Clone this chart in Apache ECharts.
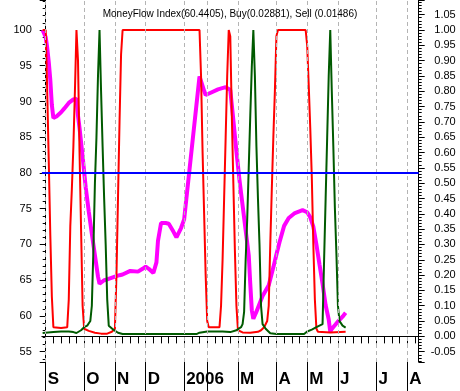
<!DOCTYPE html>
<html>
<head>
<meta charset="utf-8">
<script src="https://cdn.jsdelivr.net/npm/echarts@6/dist/echarts.min.js"></script>
<style>
html,body{margin:0;padding:0;background:#fff;}
#chart{width:460px;height:391px;}
</style>
</head>
<body>
<div id="chart"></div>
<script>
// ---- data ----
const titleText = 'MoneyFlow Index(60.4405), Buy(0.02881), Sell (0.01486)';
const weekCount = 49;                       // weekly slots on the x axis
const monthWeekIndex = [0, 5, 9, 13, 18, 21, 25, 30, 34, 38, 43, 47];
const monthLabels = ['S', 'O', 'N', 'D', '2006', '', 'M', 'A', 'M', 'J', 'J', 'A'];

// trading-day index (0 = first day of September), 5 days per week slot
const mfiDays = [-2,0,1,2,3,4,5,7,10,12,15,18,20,21,22,24,26,28,30,32,34,35,38,40,45,48,50,55,60,63,65,67,70,72,73,75,78,80,83,85,88,90,92,94,96,98,100,101,103,104,108,112,117,120,121,122,124,126,128,130,132,133,134,135,137,141,145,148,150,152,155,158,162,167,170,172,174,176,178,180,182,184,185,186,188,190,193,195];
const mfiValues = [100,99,97.5,95.5,93,89.5,87.7,87.9,88.5,89,89.8,90.3,90.4,88,86.3,82.3,78,74.6,71.5,68.5,65.5,64.5,65,65.1,65.5,65.7,65.8,66.3,66.2,66.6,66.9,66.6,66.0,67.5,70.5,73.0,73.0,72.9,71.8,71.0,72.3,73.5,77.5,81.5,85.5,89.5,93.5,93.3,91.5,90.9,91.3,91.7,92.0,91.6,89.5,87.4,83,79,75.5,72,68.5,64.5,60.8,59.6,60.6,62.8,64.3,66.8,68.6,70.3,72.6,73.7,74.4,74.8,74.5,73.8,72.5,70,67.2,64.5,61.5,59.5,57.8,58.2,58.7,59.2,59.9,60.44];

const sellDays = [-2,0,1,2,3,4,5,10,14,15,16,17,18,19,20,21,22,23,24,25,28,32,36,40,43,45,46,47,48,49,50,100,101,102,103,104,105,106,113,114,115,116,117,118,119,120,121,122,123,124,125,128,133,138,140,142,144,145,146,147,148,149,150,151,169,170,171,172,173,174,175,176,177,185,195];
const sellValues = [1,1,0.8,0.57,0.33,0.13,0.03,0.027,0.03,0.12,0.36,0.48,0.62,0.8,1,0.9,0.6,0.35,0.1,0.025,0.018,0.012,0.009,0.009,0.015,0.025,0.2,0.45,0.7,0.92,1,1,0.85,0.6,0.4,0.2,0.05,0.03,0.03,0.1,0.25,0.45,0.65,0.85,1,0.98,0.72,0.5,0.28,0.1,0.02,0.013,0.012,0.015,0.02,0.03,0.05,0.1,0.3,0.48,0.65,0.8,0.98,1,1,0.95,0.82,0.68,0.52,0.3,0.12,0.025,0.015,0.013,0.01486];

const buyDays = [-2,5,10,15,18,20,23,25,27,29,30,31,32,33,34,35,36,37,38,39,40,41,44,47,50,98,100,105,115,120,124,127,128,129,130,131,132,133,134,135,136,137,138,139,140,141,143,146,150,168,170,173,176,180,181,182,183,184,185,186,187,188,189,190,191,193,195];
const buyValues = [0.011,0.014,0.016,0.016,0.014,0.011,0.02,0.03,0.035,0.05,0.1,0.28,0.5,0.65,0.85,1,0.8,0.62,0.45,0.3,0.12,0.035,0.022,0.012,0.008,0.0075,0.012,0.016,0.016,0.014,0.02,0.03,0.04,0.08,0.25,0.38,0.55,0.72,0.88,1,0.85,0.62,0.45,0.3,0.1,0.04,0.025,0.01,0.0075,0.008,0.016,0.022,0.03,0.04,0.25,0.45,0.65,0.85,1,0.8,0.62,0.42,0.27,0.1,0.05,0.035,0.02881];

const mfiLevel = 80;

// ---- build ----
const weekCats = [];
for (let i = 0; i < weekCount; i++) {
  const k = monthWeekIndex.indexOf(i);
  weekCats.push(k >= 0 ? monthLabels[k] : '');
}
const isMonth = (i) => monthWeekIndex.indexOf(i) >= 0;
const zip = (a, b) => a.map((d, i) => [d, b[i]]);

const FONT = '"Liberation Sans", Arial, sans-serif';
const chart = echarts.init(document.getElementById('chart'), null, {renderer: 'canvas'});

const option = {
  animation: false,
  backgroundColor: '#ffffff',
  title: {
    text: titleText, left: 'center', top: 4,
    textStyle: {fontFamily: FONT, fontSize: 10, fontWeight: 'normal', color: '#000'}
  },
  grid: {left: 41.85, right: 41.3, top: 0, bottom: 29, containLabel: false},
  xAxis: [
    { // short weekly ticks
      type: 'category', data: weekCats, boundaryGap: true, position: 'bottom',
      axisLine: {show: true, lineStyle: {color: '#000', width: 1}},
      axisTick: {show: true, alignWithLabel: true, interval: 0, length: 7, lineStyle: {color: '#000'}},
      axisLabel: {show: false}, splitLine: {show: false}
    },
    { // month ticks + labels
      type: 'category', data: weekCats, boundaryGap: true, position: 'bottom',
      axisLine: {show: false},
      axisTick: {show: true, alignWithLabel: true, interval: (i) => isMonth(i), length: 29, lineStyle: {color: '#000'}},
      axisLabel: {
        show: true, interval: (i) => isMonth(i), align: 'left', margin: 9,
        padding: [0, 0, 0, 2],
        fontFamily: FONT, fontSize: 17, fontWeight: 'bold', color: '#000'
      },
      splitLine: {show: false}
    },
    { // data axis in trading days
      type: 'value', show: false, min: -2.5, max: weekCount * 5 - 2.5
    }
  ],
  yAxis: [
    {
      type: 'value', position: 'left', min: 53.559, max: 104.196,
      splitNumber: 10, minInterval: 5, maxInterval: 5,
      axisLine: {show: true, lineStyle: {color: '#000'}},
      axisTick: {show: true, length: 6, lineStyle: {color: '#000'}},
      minorTick: {show: true, splitNumber: 5, length: 3, lineStyle: {color: '#000'}},
      axisLabel: {show: true, showMinLabel: false, showMaxLabel: false, margin: 10,
        fontFamily: FONT, fontSize: 11, color: '#000'},
      splitLine: {show: false}
    },
    {
      type: 'value', position: 'right', min: -0.0836, max: 1.0979,
      splitNumber: 24, minInterval: 0.05, maxInterval: 0.05,
      axisLine: {show: true, lineStyle: {color: '#000'}},
      axisTick: {show: true, length: 6, lineStyle: {color: '#000'}},
      minorTick: {show: true, splitNumber: 5, length: 3, lineStyle: {color: '#000'}},
      axisLabel: {show: true, showMinLabel: false, showMaxLabel: false, margin: 37, align: 'right',
        formatter: (v) => v.toFixed(2),
        fontFamily: FONT, fontSize: 11, color: '#000'},
      splitLine: {show: false}
    }
  ],
  series: [
    { // month grid lines
      type: 'line', xAxisIndex: 2, yAxisIndex: 0, data: [], silent: true,
      markLine: {
        silent: true, symbol: ['none', 'none'], label: {show: false},
        lineStyle: {color: '#b4b4b4', width: 1, type: [4, 3]},
        data: monthWeekIndex.map((w) => ({xAxis: w * 5}))
      }
    },
    {
      name: 'MFI', type: 'line', xAxisIndex: 2, yAxisIndex: 0,
      data: zip(mfiDays, mfiValues), showSymbol: false, symbol: 'none',
      lineStyle: {color: '#ff00ff', width: 4}, z: 2
    },
    {
      name: 'Sell', type: 'line', xAxisIndex: 2, yAxisIndex: 1,
      data: zip(sellDays, sellValues), showSymbol: false, symbol: 'none',
      lineStyle: {color: '#ff0000', width: 2}, z: 3
    },
    {
      name: 'Buy', type: 'line', xAxisIndex: 2, yAxisIndex: 1,
      data: zip(buyDays, buyValues), showSymbol: false, symbol: 'none',
      lineStyle: {color: '#005a00', width: 2}, z: 3
    },
    { // 80 level
      type: 'line', xAxisIndex: 2, yAxisIndex: 0, data: [], silent: true, z: 4,
      markLine: {
        silent: true, symbol: ['none', 'none'], label: {show: false},
        lineStyle: {color: '#0000ff', width: 2, type: 'solid'},
        data: [{yAxis: mfiLevel}]
      }
    }
  ]
};
chart.setOption(option);
</script>
</body>
</html>
